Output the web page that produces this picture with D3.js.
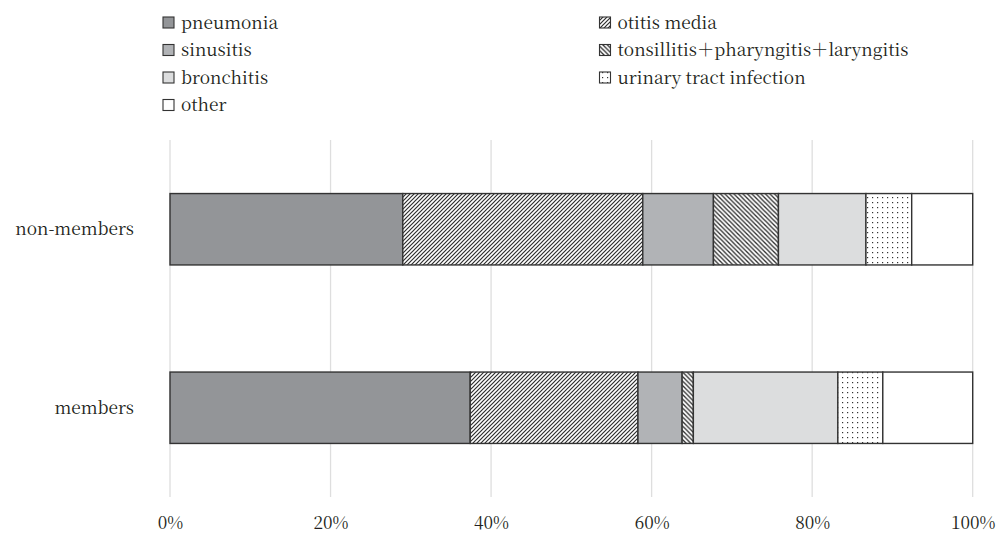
<!DOCTYPE html>
<html>
<head>
<meta charset="utf-8">
<script src="https://cdn.jsdelivr.net/npm/d3@7"></script>
<style>
  html, body { margin: 0; padding: 0; background: #fff; }
  svg { display: block; }
</style>
</head>
<body>
<svg id="chart" width="1001" height="533"></svg>
<script>
// ---- data ----
const categories = ["non-members", "members"];
const seriesNames = ["pneumonia", "otitis media", "sinusitis", "tonsillitis＋pharyngitis＋laryngitis", "bronchitis", "urinary tract infection", "other"];
const nonMembers = [29.0, 29.9, 8.8, 8.1, 10.9, 5.7, 7.6];
const members = [37.4, 20.9, 5.5, 1.4, 18.0, 5.6, 11.2];
const tickValues = [0, 20, 40, 60, 80, 100];
const tickLabels = ["0%", "20%", "40%", "60%", "80%", "100%"];

const valuesByCategory = { "non-members": nonMembers, "members": members };
const FONT = "'Noto Serif CJK JP', 'Liberation Serif', serif";
const FS = "17.3px";

// ---- layout ----
const svg = d3.select("#chart");
const margin = { left: 170, top: 140 };

const x = d3.scaleLinear().domain([0, 100]).range([margin.left, 972.7]);
const y = d3.scaleBand().domain(categories).range([margin.top, 497]).paddingInner(0.6).paddingOuter(0.3);

// ---- patterns ----
const defs = svg.append("defs");
const pFwd = defs.append("pattern").attr("id", "hatchFwd").attr("patternUnits", "userSpaceOnUse")
  .attr("width", 4).attr("height", 4);
pFwd.append("rect").attr("width", 4).attr("height", 4).attr("fill", "#fff");
pFwd.append("path").attr("d", "M-1,1 L1,-1 M0,4 L4,0 M3,5 L5,3").attr("stroke", "#2e2e2e").attr("stroke-width", 1.2);

const pBack = defs.append("pattern").attr("id", "hatchBack").attr("patternUnits", "userSpaceOnUse")
  .attr("width", 4.5).attr("height", 4.5);
pBack.append("rect").attr("width", 4.5).attr("height", 4.5).attr("fill", "#fff");
pBack.append("path").attr("d", "M-1,3.5 L1,5.5 M0,0 L4.5,4.5 M3.5,-1 L5.5,1").attr("stroke", "#2e2e2e").attr("stroke-width", 1.3);

const pDots = defs.append("pattern").attr("id", "dots").attr("patternUnits", "userSpaceOnUse")
  .attr("width", 5).attr("height", 5);
pDots.append("rect").attr("width", 5).attr("height", 5).attr("fill", "#fff");
pDots.append("rect").attr("x", 2).attr("y", 2).attr("width", 1.2).attr("height", 1.2).attr("fill", "#333");

const fills = ["#939598", "url(#hatchFwd)", "#b1b3b6", "url(#hatchBack)", "#dcddde", "url(#dots)", "#ffffff"];
const strokeColor = "#333333";

// ---- gridlines ----
svg.append("g").selectAll("line").data(tickValues).join("line")
  .attr("x1", d => x(d)).attr("x2", d => x(d))
  .attr("y1", margin.top).attr("y2", 497)
  .attr("stroke", "#dedede").attr("stroke-width", 1.3);

// ---- bars ----
const stacked = categories.map(cat => {
  let acc = 0;
  return valuesByCategory[cat].map((v, i) => {
    const seg = { cat, i, x0: acc, x1: acc + v };
    acc += v;
    return seg;
  });
}).flat();

svg.append("g").selectAll("rect").data(stacked).join("rect")
  .attr("x", d => x(d.x0))
  .attr("y", d => y(d.cat))
  .attr("width", d => x(d.x1) - x(d.x0))
  .attr("height", y.bandwidth())
  .attr("fill", d => fills[d.i])
  .attr("stroke", strokeColor)
  .attr("stroke-width", 1.4);

// ---- category labels ----
svg.append("g").selectAll("text").data(categories).join("text")
  .attr("x", 134)
  .attr("y", d => y(d) + y.bandwidth() / 2)
  .attr("dy", "0.35em")
  .attr("text-anchor", "end")
  .style("font-family", FONT)
  .style("font-size", FS)
  .style("fill", "#231f20")
  .text(d => d);

// ---- x axis tick labels ----
const xAxis = d3.axisBottom(x).tickValues(tickValues).tickFormat((d, i) => tickLabels[i]).tickSize(0).tickPadding(0);
const gx = svg.append("g").attr("transform", "translate(0,516.5)").call(xAxis);
gx.select(".domain").remove();
gx.selectAll("text")
  .style("font-family", FONT)
  .style("font-size", FS)
  .style("fill", "#231f20");

// ---- legend ----
const legendCols = [163, 599.5];
const legendRow0 = 22.5, legendRowStep = 27.5;
const legend = svg.append("g");
seriesNames.forEach((name, i) => {
  const col = i % 2, row = Math.floor(i / 2);
  const lx = legendCols[col], ly = legendRow0 + row * legendRowStep;
  legend.append("rect")
    .attr("x", lx).attr("y", ly - 5.5)
    .attr("width", 11).attr("height", 11)
    .attr("fill", fills[i]).attr("stroke", strokeColor).attr("stroke-width", 1.1);
  legend.append("text")
    .attr("x", lx + 18).attr("y", ly)
    .attr("dy", "0.35em")
    .style("font-family", FONT)
    .style("font-size", FS)
    .style("fill", "#231f20")
    .text(name);
});
</script>
</body>
</html>
